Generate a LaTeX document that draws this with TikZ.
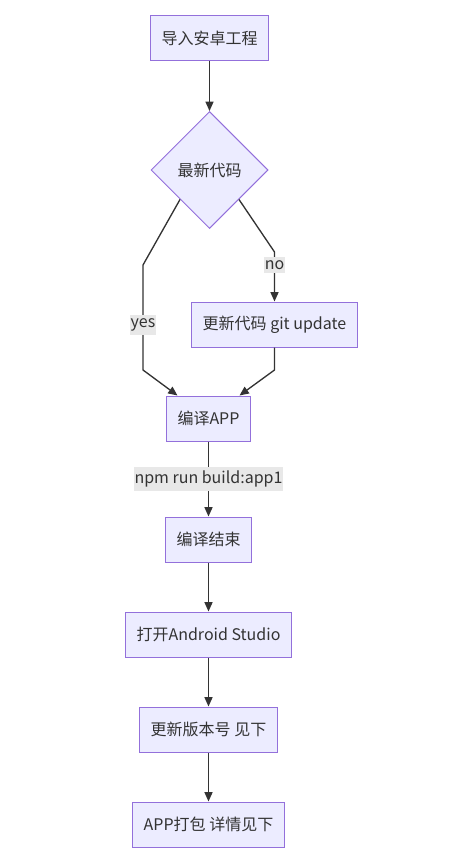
\documentclass[tikz,border=0pt]{standalone}
\usepackage{fontspec}
\setmainfont{Noto Sans CJK SC}
\usetikzlibrary{arrows.meta,calc,shapes.geometric}
\definecolor{boxfill}{HTML}{ECECFF}
\definecolor{boxline}{HTML}{9370DB}
\definecolor{wire}{HTML}{333333}
\definecolor{lblbg}{HTML}{E8E8E8}
\begin{document}
\begin{tikzpicture}[x=0.75pt,y=-0.75pt,
  font=\fontsize{12pt}{14pt}\selectfont,
  stepbox/.style={draw=boxline, fill=boxfill, line width=0.75pt, text=wire,
    minimum height=33.75pt, inner xsep=8.5pt},
  choice/.style={diamond, draw=boxline, fill=boxfill, line width=0.75pt, text=wire,
    minimum width=87.75pt, minimum height=87.75pt, inner sep=0pt, aspect=1},
  flow/.style={draw=wire, line width=1pt, -{Triangle[length=7pt,width=6pt]}},
  lbl/.style={fill=lblbg, text=wire, inner xsep=0.5pt, inner ysep=2.5pt}]
  \useasboundingbox (0,0) rectangle (470,863);
  % nodes, top to bottom
  \node[stepbox] (imp) at (209.5,38) {导入安卓工程};
  \node[choice]  (new) at (209.5,170) {最新代码};
  \node[stepbox] (upd) at (274.5,324.5) {更新代码 git update};
  \node[stepbox] (app) at (208.5,418.5) {编译APP};
  \node[stepbox] (fin) at (208.5,539.5) {编译结束};
  \node[stepbox] (ast) at (208.5,634.5) {打开Android Studio};
  \node[stepbox] (ver) at (208.5,729.5) {更新版本号 见下};
  \node[stepbox] (pkg) at (208.5,824.5) {APP打包 详情见下};
  % bends of the two branches
  \coordinate (ya) at (143,265);
  \coordinate (yb) at (143,370);
  \coordinate (na) at (274.5,252);
  \coordinate (ub) at (274.5,370);
  % connectors
  \draw[flow] (imp) -- (new);
  \draw[flow] (new.south west) -- (ya) -- node[lbl,pos=0.57] {yes} (yb)
    -- ($(app.north)+(-31,0)$);
  \draw[flow] (new.south east) -- (na) -- node[lbl,pos=0.27] {no} (upd.north);
  \draw[flow] (upd.south) -- (ub) -- ($(app.north)+(31,0)$);
  \draw[flow] (app) -- node[lbl] {npm run build:app1} (fin);
  \draw[flow] (fin) -- (ast);
  \draw[flow] (ast) -- (ver);
  \draw[flow] (ver) -- (pkg);
\end{tikzpicture}
\end{document}
